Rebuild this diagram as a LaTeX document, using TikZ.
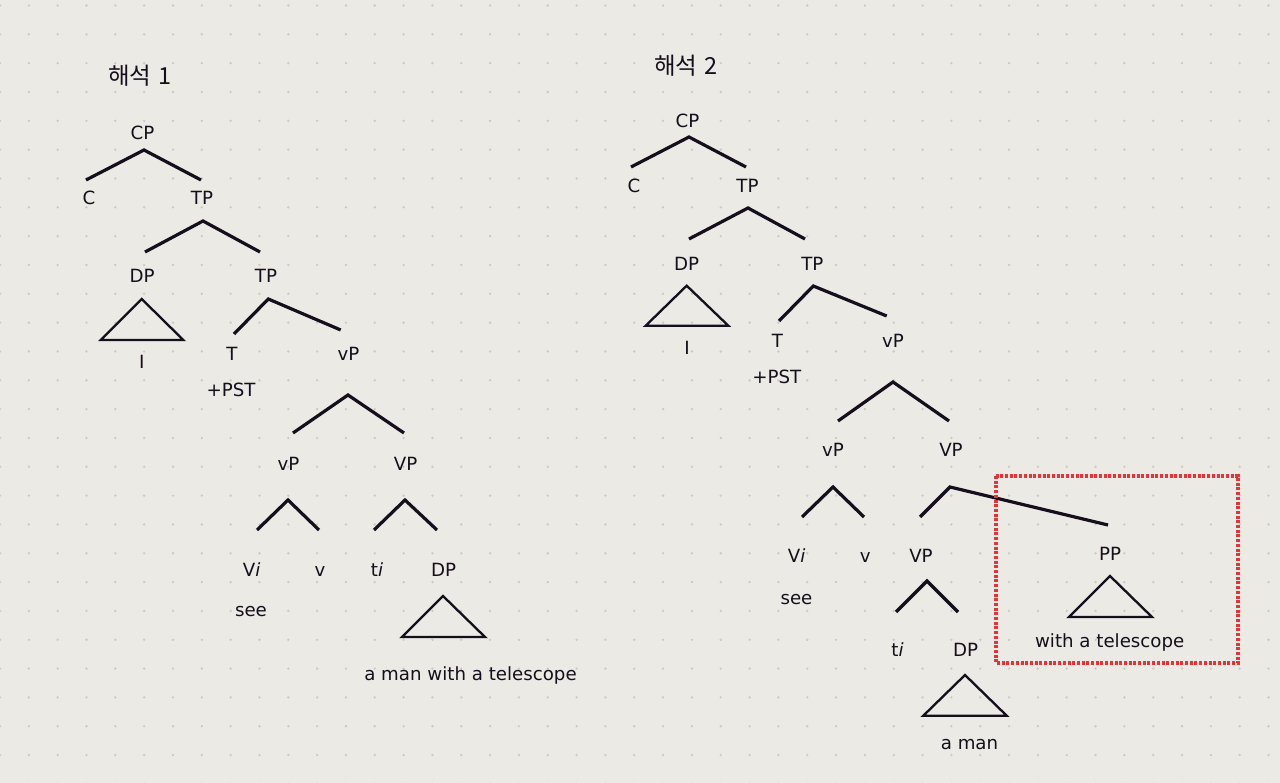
\documentclass[tikz,border=0pt]{standalone}
\usepackage{fontspec}
\setmainfont{DejaVu Sans}
\newfontfamily\cjk{Noto Sans CJK KR}
\definecolor{bgc}{RGB}{235,234,228}
\definecolor{dotc}{RGB}{202,201,196}
\definecolor{ink}{RGB}{22,14,28}
\definecolor{boxred}{RGB}{228,52,56}
\tikzset{
  lbl/.style={inner sep=0pt, anchor=base, text=ink, font=\fontsize{18.2}{21}\selectfont},
  ttl/.style={inner sep=0pt, anchor=base, text=ink, font=\cjk\fontsize{23.5}{27}\selectfont},
  branch/.style={draw=ink, line width=3.2pt},
  tri/.style={draw=ink, line width=2.3pt, line join=miter},
  hibox/.style={draw=boxred, line width=3.2pt, dash pattern=on 3pt off 1.7pt}
}
\begin{document}
\begin{tikzpicture}[x=1pt,y=-1pt]
\useasboundingbox (0,0) rectangle (1280,783);
\fill[bgc] (0,0) rectangle (1280,783);
\foreach \i in {0,...,44}{\foreach \j in {0,...,27}{\fill[dotc] (\i*28.83,5.5+\j*28.83) circle (1.3);}}

% ---------- Tree 1 ----------
\node[ttl] (title1) at (140,85) {해석\hspace{0.3em}1};
\node[lbl] (cp1) at (142.5,140) {CP};
\coordinate (a1) at (144,150); \coordinate (a1l) at (86,180); \coordinate (a1r) at (201,180);
\draw[branch] (a1l) -- (a1) -- (a1r);
\node[lbl] (c1) at (89,204.5) {C};
\node[lbl] (tp1) at (202,204.5) {TP};
\coordinate (a2) at (203,221); \coordinate (a2l) at (145,252); \coordinate (a2r) at (260,252);
\draw[branch] (a2l) -- (a2) -- (a2r);
\node[lbl] (dp1) at (142,283) {DP};
\node[lbl] (tp1b) at (266,283) {TP};
\coordinate (t1a) at (141.7,299); \coordinate (t1l) at (100.7,340); \coordinate (t1r) at (183.3,340);
\draw[tri] (t1a) -- (t1l) -- (t1r) -- cycle;
\node[lbl] (i1) at (141.7,368.3) {I};
\coordinate (a3) at (268.3,299); \coordinate (a3l) at (234,334); \coordinate (a3r) at (340.7,330);
\draw[branch] (a3l) -- (a3) -- (a3r);
\node[lbl] (t1) at (232,360.7) {T};
\node[lbl] (vp1) at (348.5,360.7) {vP};
\node[lbl] (pst1) at (231,396.7) {+PST};
\coordinate (a4) at (348,395); \coordinate (a4l) at (293,433); \coordinate (a4r) at (404,433);
\draw[branch] (a4l) -- (a4) -- (a4r);
\node[lbl] (vp1b) at (288.5,470) {vP};
\node[lbl] (VP1) at (405.7,470) {VP};
\coordinate (a5) at (288,500); \coordinate (a5l) at (257,530); \coordinate (a5r) at (319,530);
\draw[branch] (a5l) -- (a5) -- (a5r);
\coordinate (a6) at (405,500); \coordinate (a6l) at (374,530); \coordinate (a6r) at (437,530);
\draw[branch] (a6l) -- (a6) -- (a6r);
\node[lbl] (vi1) at (251.7,576) {V\textit{i}};
\node[lbl] (v1) at (320,576) {v};
\node[lbl] (ti1) at (377,576) {t\textit{i}};
\node[lbl] (dp1b) at (443.6,576) {DP};
\node[lbl] (see1) at (251,616.7) {see};
\coordinate (t2a) at (443,596); \coordinate (t2l) at (402,637); \coordinate (t2r) at (485,637);
\draw[tri] (t2a) -- (t2l) -- (t2r) -- cycle;
\node[lbl] (aman1) at (470.5,680.7) {a man with a telescope};

% ---------- Tree 2 ----------
\node[ttl] (title2) at (686,75) {해석\hspace{0.3em}2};
\node[lbl] (cp2) at (687.5,127.7) {CP};
\coordinate (b1) at (689,137); \coordinate (b1l) at (631,167); \coordinate (b1r) at (746,167);
\draw[branch] (b1l) -- (b1) -- (b1r);
\node[lbl] (c2) at (634,192.3) {C};
\node[lbl] (tp2) at (747.5,192.3) {TP};
\coordinate (b2) at (748,208); \coordinate (b2l) at (689,239); \coordinate (b2r) at (805,239);
\draw[branch] (b2l) -- (b2) -- (b2r);
\node[lbl] (dp2) at (686.5,270.7) {DP};
\node[lbl] (tp2b) at (812.3,270.7) {TP};
\coordinate (u1a) at (686.7,285.7); \coordinate (u1l) at (645.7,325.7); \coordinate (u1r) at (728.3,325.7);
\draw[tri] (u1a) -- (u1l) -- (u1r) -- cycle;
\node[lbl] (i2) at (687,355) {I};
\coordinate (b3) at (813.3,286); \coordinate (b3l) at (779,321); \coordinate (b3r) at (886.7,316);
\draw[branch] (b3l) -- (b3) -- (b3r);
\node[lbl] (t2) at (777.5,347.3) {T};
\node[lbl] (vp2) at (893,347.3) {vP};
\node[lbl] (pst2) at (776.8,383.3) {+PST};
\coordinate (b4) at (893,382); \coordinate (b4l) at (838,421); \coordinate (b4r) at (949,421);
\draw[branch] (b4l) -- (b4) -- (b4r);
\node[lbl] (vp2b) at (833,456.7) {vP};
\node[lbl] (VP2) at (951,456.7) {VP};
\coordinate (b5) at (833,487); \coordinate (b5l) at (802,517); \coordinate (b5r) at (864,517);
\draw[branch] (b5l) -- (b5) -- (b5r);
\coordinate (b6) at (950,487); \coordinate (b6l) at (920,517); \coordinate (b6r) at (1108,525);
\draw[branch] (b6l) -- (b6) -- (b6r);
\node[lbl] (vi2) at (796.7,562.3) {V\textit{i}};
\node[lbl] (v2) at (865.3,562.3) {v};
\node[lbl] (VP2b) at (921,562.3) {VP};
\node[lbl] (pp2) at (1110,560) {PP};
\node[lbl] (see2) at (796.5,604.3) {see};
\coordinate (b7) at (927,581); \coordinate (b7l) at (896,612); \coordinate (b7r) at (958,612);
\draw[branch] (b7l) -- (b7) -- (b7r);
\coordinate (u2a) at (1110,576); \coordinate (u2l) at (1069,617); \coordinate (u2r) at (1152,617);
\draw[tri] (u2a) -- (u2l) -- (u2r) -- cycle;
\node[lbl] (wat) at (1109.7,647.3) {with a telescope};
\node[lbl] (ti2) at (897.5,656) {t\textit{i}};
\node[lbl] (dp2c) at (965.5,656) {DP};
\coordinate (u3a) at (965,675); \coordinate (u3l) at (923.3,715.7); \coordinate (u3r) at (1006.7,715.7);
\draw[tri] (u3a) -- (u3l) -- (u3r) -- cycle;
\node[lbl] (aman2) at (969.5,749.3) {a man};

% highlight box
\coordinate (hb1) at (996,476); \coordinate (hb2) at (1238,663);
\draw[hibox] (hb1) rectangle (hb2);
\end{tikzpicture}
\end{document}
